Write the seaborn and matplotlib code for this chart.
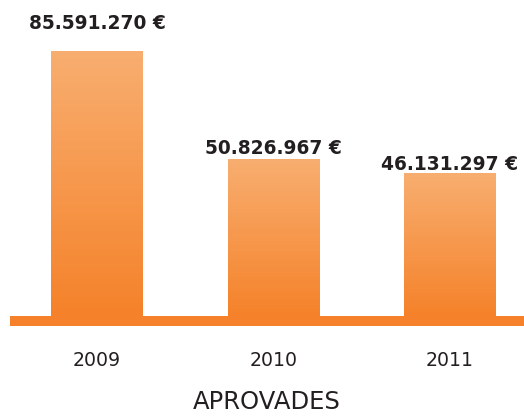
import numpy as np
import pandas as pd
import matplotlib
matplotlib.use("Agg")
import matplotlib.pyplot as plt
import seaborn as sns
from matplotlib.colors import LinearSegmentedColormap

# Approved amounts per year (euros)
years = ["2009", "2010", "2011"]
amounts = [85591270, 50826967, 46131297]
value_labels = ["85.591.270 €", "50.826.967 €", "46.131.297 €"]
axis_title = "APROVADES"

sns.set_theme(style="white")
plt.rcParams["font.family"] = ["DejaVu Sans"]

TEXT = "#231F20"
ORANGE_DARK = "#F5822A"
ORANGE_LIGHT = "#F8AE70"

W, H, DPI = 524, 416, 100
fig = plt.figure(figsize=(W / DPI, H / DPI), dpi=DPI)
fig.patch.set_facecolor("white")
ax = fig.add_axes([10 / W, 90 / H, 514 / W, 326 / H])

df = pd.DataFrame({"year": years, "amount": np.array(amounts) / 1e6})
sns.barplot(data=df, x="year", y="amount", ax=ax, width=0.52,
            color=ORANGE_DARK, saturation=1, edgecolor="none")

# vertical scale: pixels per million euros
px_per_unit = 3.085
base_px = 10
y_bottom = -base_px / px_per_unit
y_top = 316 / px_per_unit

# vertical gradient fill for each bar (light top, dark bottom)
cmap = LinearSegmentedColormap.from_list("bar_grad", [ORANGE_DARK, ORANGE_LIGHT])
grad = np.linspace(0, 1, 256).reshape(-1, 1)
for patch in list(ax.patches):
    x0, w, h = patch.get_x(), patch.get_width(), patch.get_height()
    patch.set_visible(False)
    ax.imshow(grad, extent=[x0, x0 + w, 0, h], origin="lower",
              aspect="auto", cmap=cmap, zorder=2, interpolation="bicubic")

# baseline band
ax.axhspan(y_bottom, 0, color=ORANGE_DARK, zorder=3, lw=0)

# value labels above bars
gaps = [23, 5, 4]
for i, (v, lab) in enumerate(zip(df["amount"], value_labels)):
    ax.annotate(lab, xy=(i, v), xytext=(0, gaps[i]), textcoords="offset pixels",
                ha="center", va="baseline", fontsize=13.4, fontweight="bold",
                color=TEXT, zorder=4)

ax.set_xlim(-0.493, 2.419)
ax.set_ylim(y_bottom, y_top)
ax.set_yticks([])
ax.set_ylabel("")
ax.tick_params(axis="x", length=0, pad=18, labelsize=13.6, labelcolor=TEXT)
ax.set_xlabel(axis_title, fontsize=17.5, color=TEXT, labelpad=14.5)
for s in ax.spines.values():
    s.set_visible(False)
ax.set_facecolor("none")

fig.savefig("out.png", dpi=DPI, facecolor="white")
